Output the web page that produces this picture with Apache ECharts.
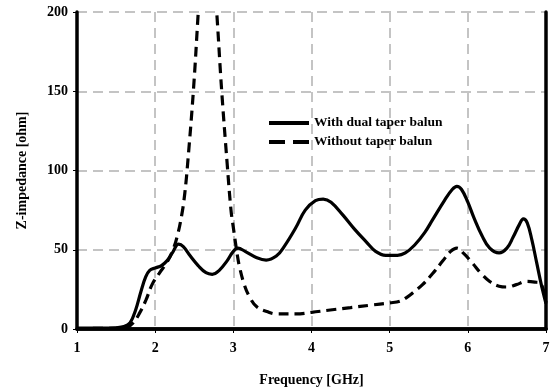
<!DOCTYPE html>
<html><head><meta charset="utf-8">
<script src="https://cdn.jsdelivr.net/npm/echarts@6/dist/echarts.min.js"></script>
<style>html,body{margin:0;padding:0;background:#fff}#c{width:553px;height:392px}</style>
</head><body><div id="c"></div>
<script>
const seriesNames = ['With dual taper balun', 'Without taper balun'];
const xTicks = [1, 2, 3, 4, 5, 6, 7];
const yTicks = [0, 50, 100, 150, 200];
const withBalunFreq = [1.0,1.3,1.5,1.6,1.68,1.75,1.82,1.88,1.93,2.0,2.08,2.15,2.22,2.3,2.36,2.45,2.55,2.65,2.73,2.82,2.92,3.0,3.06,3.15,3.3,3.42,3.55,3.65,3.8,3.92,4.05,4.15,4.25,4.4,4.55,4.7,4.82,4.95,5.1,5.2,5.32,5.45,5.55,5.7,5.8,5.86,5.92,6.0,6.08,6.18,6.28,6.4,6.5,6.58,6.66,6.71,6.76,6.82,6.88,6.94,7.0];
const withBalunZ = [0.5,0.5,0.8,1.5,4,12,24,33,37,38.5,40,43,48,53.5,52,46,40,35.5,34.5,37,43,49,51,49,45,43.5,46,52,64,75,81,82,80,72,63,55,49,46.5,46.5,48,53,61,69,81,88,90,88,80,70,59,51,48,51,58,66,69.5,67,56,42,28,16];
const withoutBalunFreq = [1.0,1.5,1.65,1.72,1.8,1.88,1.96,2.05,2.15,2.22,2.28,2.34,2.38,2.42,2.49,2.55,2.6,2.67,2.73,2.79,2.85,2.92,2.97,3.0,3.05,3.08,3.14,3.21,3.3,3.43,3.55,3.8,4.0,4.24,4.5,4.75,5.0,5.13,5.22,5.3,5.42,5.55,5.68,5.78,5.86,5.95,6.06,6.17,6.28,6.4,6.5,6.62,6.75,6.88,6.93,7.0];
const withoutBalunZ = [0.3,0.5,1.5,4,10,18,28,35,42,49,58,72,86,107,151,199,240,260,240,198,151,105,75,64,47,39,28,20,14,11,9.5,9.5,10.5,12,13.5,15,16.5,17.5,20,23,28,35,43,49,51,47.5,41.5,35,30,27,26.5,28,30,29.5,29,17];

const serif = 'Liberation Serif, Times New Roman, serif';
const chart = echarts.init(document.getElementById('c'), null, {renderer: 'canvas'});
const zip = (a, b) => a.map((v, i) => [v, b[i]]);
const frameAxis = {show: true, lineStyle: {color: '#000', width: 3.5}};
chart.setOption({
  animation: false,
  backgroundColor: '#fff',
  grid: {left: 77, right: 7, top: 12, bottom: 62},
  legend: {
    orient: 'vertical', left: 262, top: 111, itemWidth: 40, itemHeight: 10, itemGap: 5,
    data: [
      {name: seriesNames[0], lineStyle: {width: 4, type: 'solid'}},
      {name: seriesNames[1], lineStyle: {width: 4, type: [16, 8]}}
    ],
    itemStyle: {opacity: 0},
    textStyle: {fontFamily: serif, fontWeight: 'bold', fontSize: 13.5, color: '#000'}
  },
  xAxis: [{
    type: 'value', min: xTicks[0], max: xTicks[xTicks.length - 1], interval: 1,
    name: 'Frequency [GHz]', nameLocation: 'middle', nameGap: 44,
    nameTextStyle: {fontFamily: serif, fontWeight: 'bold', fontSize: 14, color: '#000'},
    axisLine: frameAxis,
    axisTick: {show: true, length: 4, lineStyle: {color: '#000', width: 1}},
    axisLabel: {fontFamily: serif, fontWeight: 'bold', fontSize: 14, color: '#000', margin: 12},
    splitLine: {show: true, lineStyle: {color: '#c4c4c4', width: 2, type: [10, 6]}}
  }, {
    type: 'value', position: 'top', min: 1, max: 7, axisLine: frameAxis,
    axisTick: {show: false}, axisLabel: {show: false}, splitLine: {show: false}
  }],
  yAxis: [{
    type: 'value', min: yTicks[0], max: yTicks[yTicks.length - 1], interval: 50,
    name: 'Z-impedance [ohm]', nameLocation: 'middle', nameGap: 48,
    nameTextStyle: {fontFamily: serif, fontWeight: 'bold', fontSize: 14, color: '#000'},
    axisLine: frameAxis,
    axisTick: {show: true, length: 4, lineStyle: {color: '#000', width: 1}},
    axisLabel: {fontFamily: serif, fontWeight: 'bold', fontSize: 14, color: '#000', margin: 9},
    splitLine: {show: true, lineStyle: {color: '#c4c4c4', width: 2, type: [10, 6]}}
  }, {
    type: 'value', position: 'right', min: 0, max: 200, axisLine: frameAxis,
    axisTick: {show: false}, axisLabel: {show: false}, splitLine: {show: false}
  }],
  series: [{
    name: seriesNames[0], type: 'line', smooth: 0.4, symbol: 'none', clip: true,
    data: zip(withBalunFreq, withBalunZ),
    lineStyle: {color: '#000', width: 3.2}, itemStyle: {color: '#000'}
  }, {
    name: seriesNames[1], type: 'line', smooth: 0.4, symbol: 'none', clip: true,
    data: zip(withoutBalunFreq, withoutBalunZ),
    lineStyle: {color: '#000', width: 3.2, type: [10, 6]}, itemStyle: {color: '#000'}
  }]
});
</script></body></html>
